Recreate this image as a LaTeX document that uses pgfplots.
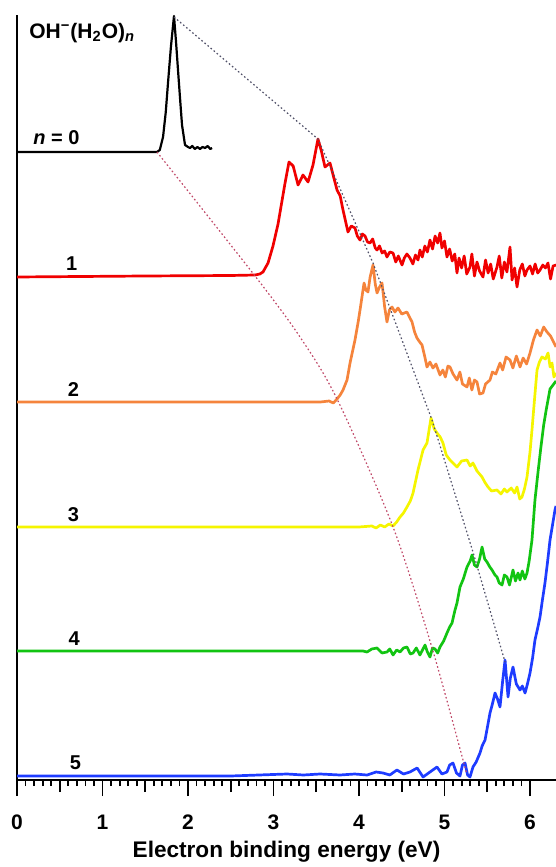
\documentclass[border=0pt]{standalone}
\usepackage{pgfplots}
\usepackage{pgfplotstable}
\pgfplotsset{compat=1.18}
\usepackage{fontspec}
\setmainfont{Liberation Sans}
\definecolor{cRed}{HTML}{F00000}
\definecolor{cOrange}{HTML}{F5843C}
\definecolor{cYellow}{HTML}{F5F500}
\definecolor{cGreen}{HTML}{12C412}
\definecolor{cBlue}{HTML}{1E3CFF}
\definecolor{cGrayDot}{HTML}{505068}
\definecolor{cPinkDot}{HTML}{C04868}

\pgfplotstableread{
x h
0 0
1.637 0
1.67 2
1.708 15
1.74 40
1.766 69
1.80 105
1.836 136
1.86 110
1.883 82
1.91 50
1.930 27
1.965 7
2.00 5
2.023 4
2.05 6
2.08 3
2.11 5
2.14 3
2.17 5
2.20 4
2.23 6
2.26 3
2.281 4
}\tblA

\pgfplotstableread{
x h
0 -1
1.5 0
2.5 0.5
2.784 1
2.84 2
2.877 4
2.936 13
2.994 30
3.053 52
3.099 75
3.135 93
3.181 114
3.23 110
3.287 91
3.345 101
3.404 94
3.462 111
3.520 137
3.56 125
3.602 109
3.661 113
3.70 100
3.743 86
3.78 80
3.813 66
3.871 44
3.91 50
3.953 48
3.98 40
4.012 36
4.04 42
4.07 40
4.10 34
4.129 33
4.16 37
4.19 28
4.211 26
4.24 30
4.27 23
4.30 25
4.327 19
4.36 24
4.398 23
4.43 14
4.46 20
4.503 11
4.53 18
4.56 22
4.596 18
4.63 12
4.66 21
4.69 16
4.713 26
4.74 19
4.77 30
4.80 24
4.830 36
4.86 27
4.89 40
4.92 33
4.947 43
4.97 28
5.00 35
5.029 19
5.06 27
5.09 15
5.12 22
5.146 3
5.17 18
5.20 8
5.23 20
5.26 2
5.298 9
5.32 22
5.35 0
5.38 14
5.41 5
5.450 -1
5.48 16
5.51 3
5.54 12
5.57 -3
5.614 9
5.64 20
5.67 -2
5.70 14
5.73 4
5.766 29
5.79 -4
5.82 8
5.848 -11
5.88 6
5.91 12
5.94 0
5.965 6
6.00 10
6.03 2
6.06 12
6.09 3
6.117 6
6.15 11
6.18 8
6.21 13
6.24 -3
6.27 10
6.304 11
}\tblB

\pgfplotstableread{
x h
0 0
3.0 0
3.55 0
3.65 1
3.70 -1
3.743 3
3.78 7
3.813 12
3.86 22
3.895 39
3.953 62
3.99 80
4.012 92
4.059 119
4.08 112
4.105 110
4.130 125
4.164 137
4.19 118
4.211 109
4.240 115
4.269 119
4.30 95
4.327 80
4.356 92
4.386 95
4.42 90
4.456 94
4.50 88
4.56 90
4.59 85
4.620 80
4.65 70
4.678 64
4.71 60
4.737 57
4.77 45
4.795 35
4.83 40
4.865 34
4.90 38
4.947 27
4.98 32
5.01 25
5.04 36
5.064 35
5.10 28
5.146 22
5.18 30
5.21 18
5.263 15
5.29 24
5.32 12
5.35 22
5.380 20
5.41 8
5.450 9
5.48 18
5.532 22
5.56 30
5.60 28
5.649 39
5.68 32
5.72 45
5.766 42
5.80 34
5.84 46
5.883 35
5.92 44
5.96 38
6.0 49
6.04 62
6.082 72
6.12 66
6.16 75
6.199 70
6.24 66
6.304 55
}\tblC

\pgfplotstableread{
x h
0 0
3.0 0
4.0 0
4.15 1
4.20 -1
4.25 2
4.30 0
4.35 3
4.398 1
4.44 5
4.480 10
4.52 14
4.561 20
4.60 26
4.632 34
4.690 57
4.749 77
4.795 84
4.842 109
4.88 98
4.912 94
4.95 90
4.982 84
5.02 72
5.064 67
5.10 64
5.146 60
5.20 66
5.263 67
5.30 61
5.333 64
5.38 56
5.439 50
5.47 45
5.509 40
5.55 36
5.614 37
5.66 33
5.70 38
5.731 35
5.78 39
5.82 34
5.848 40
5.88 28
5.906 30
5.935 38
5.965 50
6.000 75
6.023 97
6.05 125
6.082 157
6.110 165
6.140 170
6.18 168
6.211 174
6.235 160
6.257 164
6.28 150
6.304 154
}\tblD

\pgfplotstableread{
x h
0 0
3.0 0
4.0 0
4.047 0
4.094 -1
4.15 2
4.211 3
4.27 -2
4.327 -1
4.36 2
4.398 -4
4.44 1
4.480 -1
4.52 3
4.561 4
4.60 -3
4.632 -2
4.67 3
4.713 -4
4.772 6
4.80 -1
4.830 -6
4.86 3
4.889 2
4.92 -2
4.947 4
4.99 10
5.029 18
5.06 24
5.088 28
5.12 40
5.146 48
5.181 64
5.22 72
5.263 84
5.30 90
5.322 96
5.35 86
5.380 84
5.41 92
5.439 104
5.47 92
5.497 89
5.53 84
5.556 81
5.59 76
5.614 74
5.64 68
5.673 66
5.70 76
5.731 74
5.76 66
5.801 81
5.83 70
5.860 78
5.883 71
5.91 80
5.94 72
5.965 78
5.99 90
6.023 111
6.058 151
6.095 180
6.129 205
6.160 226
6.187 240
6.234 262
6.269 266
6.304 270
}\tblE

\pgfplotstableread{
x h
0 0
2.5 0
3.158 2
3.35 1
3.544 2
3.778 1
3.95 2
4.094 1
4.20 4
4.281 3
4.36 1
4.444 6
4.52 2
4.596 4
4.68 8
4.749 -1
4.83 4
4.912 9
4.97 2
5.029 4
5.06 11
5.099 13
5.14 3
5.181 0
5.21 11
5.240 13
5.27 1
5.298 -1
5.333 9
5.37 14
5.415 23
5.44 30
5.474 36
5.50 48
5.532 63
5.56 72
5.591 83
5.62 77
5.649 69
5.68 95
5.708 116
5.743 79
5.77 98
5.801 109
5.84 92
5.883 86
5.91 90
5.942 83
5.97 92
6.0 103
6.03 118
6.058 136
6.09 148
6.117 159
6.145 176
6.175 193
6.205 214
6.234 236
6.265 252
6.292 266
6.304 270
}\tblF

\begin{document}
\begin{tikzpicture}
\begin{axis}[
  at={(0,0)}, anchor=south west,
  scale only axis, width=269.5pt, height=382.5pt,
  xmin=0, xmax=6.304, ymin=0, ymax=765,
  axis lines*=left,
  axis line style={line width=1.2pt, black},
  ytick=\empty,
  xtick={0,1,2,3,4,5,6},
  xticklabels={0,1,2,3,4,5,6},
  minor x tick num=9,
  extra x ticks={0.5,1.5,2.5,3.5,4.5,5.5},
  extra x tick labels={},
  extra x tick style={major tick length=6pt},
  tick align=outside,
  major tick length=8pt, minor tick length=3pt,
  tick style={line width=0.9pt, black},
  xticklabel style={font=\bfseries\fontsize{10.5}{12}\selectfont, yshift=-5.75pt},
  xlabel={Electron binding energy (eV)},
  xlabel style={font=\bfseries\fontsize{11.3}{13}\selectfont,
    at={(axis description cs:0.5,0)}, anchor=base, yshift=-38.5pt},
  every axis plot/.append style={line width=1.35pt, line join=round},
]
\addplot[black, line width=1.1pt] table[x=x, y expr=\thisrow{h}+628] {\tblA};
\addplot[cRed] table[x=x, y expr=\thisrow{h}+504] {\tblB};
\addplot[cOrange] table[x=x, y expr=\thisrow{h}+378] {\tblC};
\addplot[cYellow] table[x=x, y expr=\thisrow{h}+253] {\tblD};
\addplot[cGreen] table[x=x, y expr=\thisrow{h}+129] {\tblE};
\addplot[cBlue] table[x=x, y expr=\thisrow{h}+4] {\tblF};

\addplot[cGrayDot, line width=0.6pt, dash pattern=on 0.8pt off 1.2pt] coordinates {
(1.836,763) (3.520,641) (4.164,517) (4.854,360) (5.333,228) (5.708,118)};
\addplot[cPinkDot, line width=0.6pt, dash pattern=on 0.8pt off 1.2pt, smooth] coordinates {
(1.637,628) (2.784,504) (3.31,443) (3.743,381) (4.398,253) (4.865,129) (5.26,6)};

\node[anchor=west, font=\bfseries\fontsize{10.5}{12}\selectfont, inner sep=0pt] at (axis cs:0.14,747)
  {OH\textsuperscript{−}(H\textsubscript{2}O)\textsubscript{\textit{n}}};
\node[anchor=west, font=\bfseries\fontsize{10}{12}\selectfont, inner sep=0pt] at (axis cs:0.187,642) {\textit{n} = 0};
\node[font=\bfseries\fontsize{10}{12}\selectfont, inner sep=0pt] at (axis cs:0.64,516) {1};
\node[font=\bfseries\fontsize{10}{12}\selectfont, inner sep=0pt] at (axis cs:0.66,390) {2};
\node[font=\bfseries\fontsize{10}{12}\selectfont, inner sep=0pt] at (axis cs:0.66,265) {3};
\node[font=\bfseries\fontsize{10}{12}\selectfont, inner sep=0pt] at (axis cs:0.67,141) {4};
\node[font=\bfseries\fontsize{10}{12}\selectfont, inner sep=0pt] at (axis cs:0.684,17) {5};
\end{axis}
\pgfresetboundingbox
\path[use as bounding box] (-8.5pt,-43.5pt) rectangle (269.5pt,390pt);
\end{tikzpicture}
\end{document}
